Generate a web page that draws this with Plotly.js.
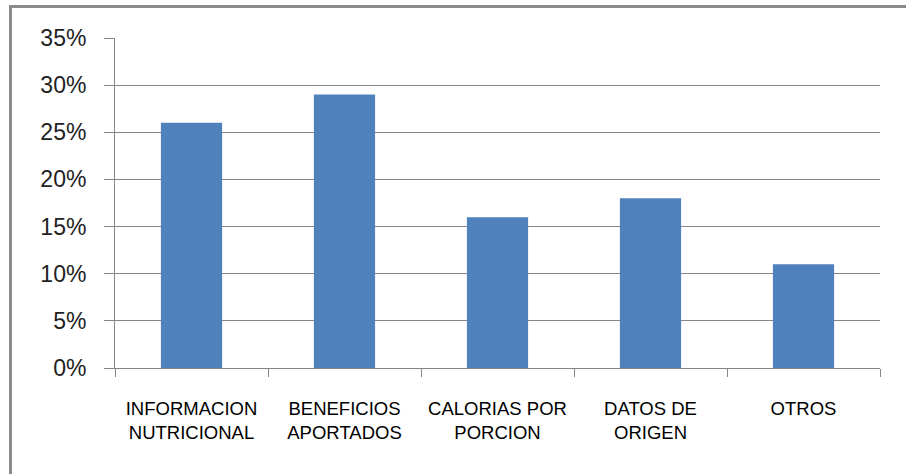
<!DOCTYPE html>
<html>
<head>
<meta charset="utf-8">
<script src="https://cdn.plot.ly/plotly-3.0.1.min.js"></script>
<style>
  html, body { margin: 0; padding: 0; background: #fff; overflow: hidden; }
  #frame { position: absolute; left: 9px; top: 5px; width: 920px; height: 500px;
           border-left: 3px solid #8a8a8a; border-top: 3px solid #8a8a8a; box-sizing: border-box; }
  #chart { position: absolute; left: 0; top: 0; width: 906px; height: 474px; }
</style>
</head>
<body>
<div id="frame"></div>
<div id="chart"></div>
<script>
const categories = ["INFORMACION<br>NUTRICIONAL", "BENEFICIOS<br>APORTADOS", "CALORIAS POR<br>PORCION", "DATOS DE<br>ORIGEN", "OTROS"];
const values = [0.26, 0.29, 0.16, 0.18, 0.11];
const yTickVals = [0, 0.05, 0.10, 0.15, 0.20, 0.25, 0.30, 0.35];
const yTickText = ["0%", "5%", "10%", "15%", "20%", "25%", "30%", "35%"];

const trace = {
  type: "bar",
  x: categories,
  y: values,
  marker: { color: "#4F81BD" },
  hoverinfo: "x+y"
};

const layout = {
  width: 906,
  height: 474,
  margin: { l: 115, r: 26, t: 38, b: 106, pad: 0 },
  paper_bgcolor: "rgba(0,0,0,0)",
  plot_bgcolor: "rgba(0,0,0,0)",
  showlegend: false,
  bargap: 0.6,
  font: { family: "Liberation Sans, Arial, sans-serif", color: "#111" },
  xaxis: {
    type: "category",
    showgrid: false,
    showline: true,
    linecolor: "#868686",
    linewidth: 1,
    ticks: "outside",
    ticklen: 8,
    tickcolor: "#868686",
    tickson: "boundaries",
    tickfont: { size: 18.5, color: "#000" },
    ticklabelstandoff: 24,
    zeroline: false,
    fixedrange: true
  },
  yaxis: {
    range: [0, 0.35],
    tickvals: yTickVals,
    ticktext: yTickText,
    showgrid: true,
    gridcolor: "#868686",
    gridwidth: 1,
    showline: true,
    linecolor: "#868686",
    linewidth: 1,
    ticks: "outside",
    ticklen: 10,
    tickcolor: "#868686",
    tickfont: { size: 23, color: "#222" },
    ticklabelstandoff: 13,
    zeroline: false,
    fixedrange: true
  }
};

Plotly.newPlot("chart", [trace], layout, { staticPlot: true, displayModeBar: false });
</script>
</body>
</html>
